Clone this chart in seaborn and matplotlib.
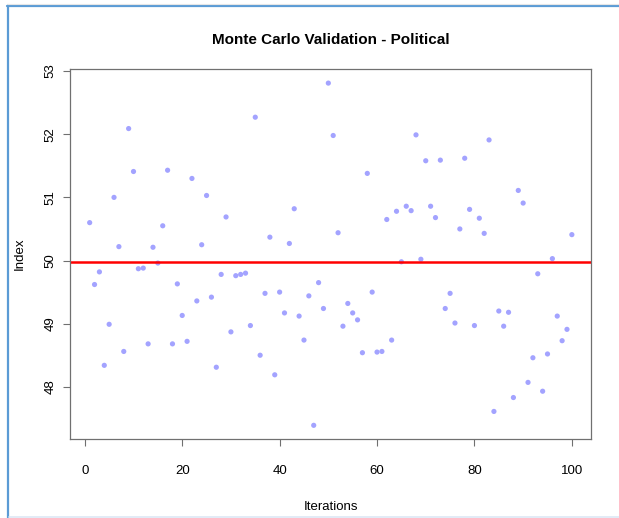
import matplotlib
matplotlib.use("Agg")
import matplotlib.pyplot as plt
from matplotlib.lines import Line2D
import numpy as np
import pandas as pd
import seaborn as sns

iterations = list(range(1, 101))
index_values = [
    50.60, 49.62, 49.82, 48.34, 48.99, 51.00, 50.22, 48.56, 52.09, 51.41,
    49.87, 49.88, 48.68, 50.21, 49.96, 50.55, 51.43, 48.68, 49.63, 49.13,
    48.72, 51.30, 49.36, 50.25, 51.03, 49.42, 48.31, 49.78, 50.69, 48.87,
    49.76, 49.78, 49.80, 48.97, 52.27, 48.50, 49.48, 50.37, 48.19, 49.50,
    49.17, 50.27, 50.82, 49.12, 48.74, 49.44, 47.39, 49.65, 49.24, 52.81,
    51.98, 50.44, 48.96, 49.32, 49.17, 49.06, 48.54, 51.38, 49.50, 48.55,
    48.56, 50.65, 48.74, 50.78, 49.98, 50.86, 50.79, 51.99, 50.02, 51.58,
    50.86, 50.68, 51.59, 49.24, 49.48, 49.01, 50.50, 51.62, 50.81, 48.97,
    50.67, 50.43, 51.91, 47.61, 49.20, 48.96, 49.18, 47.83, 51.11, 50.91,
    48.07, 48.46, 49.79, 47.93, 48.52, 50.03, 49.12, 48.73, 48.91, 50.41,
]
reference_level = 49.978

df = pd.DataFrame({"Iterations": iterations, "Index": index_values})

sns.set_style("white")
plt.rcParams["font.family"] = ["Liberation Sans", "DejaVu Sans"]
plt.rcParams["text.color"] = "black"
plt.rcParams["axes.labelcolor"] = "black"
plt.rcParams["xtick.labelcolor"] = "black"
plt.rcParams["ytick.labelcolor"] = "black"

fig = plt.figure(figsize=(6.19, 5.18), dpi=100)
ax = fig.add_axes([0.1137, 0.1525, 0.8413, 0.7135])

sns.scatterplot(data=df, x="Iterations", y="Index", ax=ax, color="#a3a3ff",
                s=14, linewidth=0, edgecolor="none")
ax.axhline(reference_level, color="#ff0000", lw=1.8)

ymin, ymax = min(index_values), max(index_values)
pad = (ymax - ymin) * 0.04
ax.set_ylim(ymin - pad, ymax + pad)
ax.set_xlim(1 - 99 * 0.04, 100 + 99 * 0.04)
ax.set_xticks([0, 20, 40, 60, 80, 100])
ax.set_yticks([48, 49, 50, 51, 52, 53])

for sp in ax.spines.values():
    sp.set_color("#707070")
    sp.set_linewidth(0.9)

ax.tick_params(axis="both", direction="out", length=5, width=0.8,
               color="#707070", labelsize=9.5, left=True, bottom=True)
ax.tick_params(axis="x", pad=14)
ax.tick_params(axis="y", pad=5)
for lab in ax.get_yticklabels():
    lab.set_rotation(90)
    lab.set_va("center")

ax.set_xlabel("Iterations", fontsize=9.5, labelpad=17)
ax.set_ylabel("Index", fontsize=9.5, labelpad=13.5)
ax.set_title("Monte Carlo Validation - Political", fontsize=11,
             fontweight="bold", pad=18.5)

# screenshot frame
fig.add_artist(Line2D([7.5 / 619, 7.5 / 619], [0, 1 - 5 / 518],
                      transform=fig.transFigure, color="#5b9bd5", lw=1.6))
fig.add_artist(Line2D([7 / 619, 1], [1 - 5.5 / 518, 1 - 5.5 / 518],
                      transform=fig.transFigure, color="#5b9bd5", lw=1.6))
fig.add_artist(Line2D([7 / 619, 1], [1 - 3.5 / 518, 1 - 3.5 / 518],
                      transform=fig.transFigure, color="#e6e6e6", lw=0.8))
fig.add_artist(Line2D([9 / 619, 1], [1.5 / 518, 1.5 / 518],
                      transform=fig.transFigure, color="#dde8f5", lw=1.2))

fig.savefig("out.png", dpi=100)
